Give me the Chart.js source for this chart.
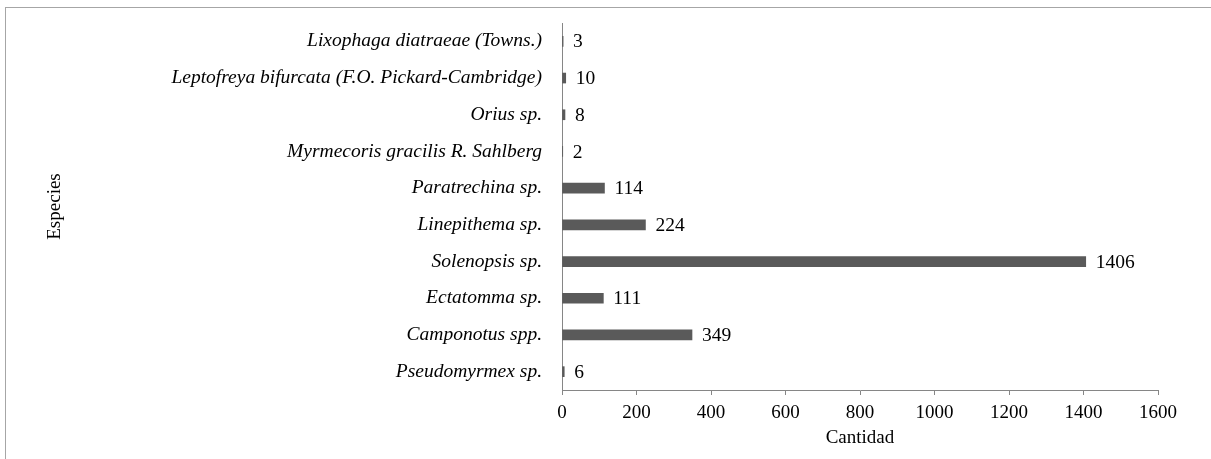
<!DOCTYPE html>
<html>
<head>
<meta charset="utf-8">
<script src="https://cdn.jsdelivr.net/npm/chart.js@4"></script>
<style>
  html, body { margin: 0; padding: 0; background: #fff; overflow: hidden; }
  #wrap { position: relative; width: 1211px; height: 459px; }
  #frame { position: absolute; left: 5px; top: 7px; width: 1400px; height: 700px; border: 1px solid #a6a6a6; box-sizing: border-box; pointer-events: none; }
</style>
</head>
<body>
<div id="wrap">
  <div id="frame"></div>
  <canvas id="speciesChart"></canvas>
</div>
<script>
// species, top to bottom as in the figure
var especies = [
    'Lixophaga diatraeae (Towns.)',
    'Leptofreya bifurcata (F.O. Pickard-Cambridge)',
    'Orius sp.',
    'Myrmecoris gracilis R. Sahlberg',
    'Paratrechina sp.',
    'Linepithema sp.',
    'Solenopsis sp.',
    'Ectatomma sp.',
    'Camponotus spp.',
    'Pseudomyrmex sp.'
];
var cantidad = [3, 10, 8, 2, 114, 224, 1406, 111, 349, 6];
var xTicks = [0, 200, 400, 600, 800, 1000, 1200, 1400, 1600];

var serif = "'Liberation Serif', 'Times New Roman', serif";
var axisGray = '#868686';

// draws the value right of each bar
var valueLabels = {
    id: 'valueLabels',
    afterDatasetsDraw: function (chart) {
        var ctx = chart.ctx;
        var meta = chart.getDatasetMeta(0);
        ctx.save();
        ctx.font = '19.5px ' + serif;
        ctx.fillStyle = '#000';
        ctx.textAlign = 'left';
        ctx.textBaseline = 'middle';
        meta.data.forEach(function (bar, i) {
            ctx.fillText(String(cantidad[i]), bar.x + 10, bar.y + 1);
        });
        ctx.restore();
    }
};

var ctx = document.getElementById('speciesChart').getContext('2d');
var chart = new Chart(ctx, {
    type: 'bar',
    data: {
        labels: especies,
        datasets: [{
            data: cantidad,
            backgroundColor: '#5a5a5a',
            barThickness: 10
        }]
    },
    plugins: [valueLabels],
    options: {
        indexAxis: 'y',
        responsive: true,
        maintainAspectRatio: false,
        animation: false,
        layout: { padding: { left: 44, top: 23, right: 53, bottom: 0 } },
        plugins: {
            legend: { display: false },
            tooltip: { enabled: false }
        },
        scales: {
            x: {
                min: 0,
                max: 1600,
                afterBuildTicks: function (scale) {
                    scale.ticks = xTicks.map(function (v) { return { value: v }; });
                },
                afterFit: function (scale) { scale.height = 69; },
                grid: { drawOnChartArea: false, drawTicks: true, tickLength: 5, color: axisGray },
                border: { color: axisGray },
                ticks: {
                    color: '#000', font: { family: serif, size: 19 }, padding: 7, maxRotation: 0,
                    callback: function (value) { return String(value); }
                },
                title: { display: true, text: 'Cantidad', color: '#000', font: { family: serif, size: 19 }, padding: { top: 0, bottom: 10 } }
            },
            y: {
                afterFit: function (scale) {
                    scale.width = 518;
                    scale.paddingTop = 0;
                    scale.paddingBottom = 0;
                },
                grid: { display: false },
                border: { color: axisGray },
                ticks: { color: '#000', font: { family: serif, size: 19.5, style: 'italic' }, padding: 12, autoSkip: false },
                title: { display: true, text: 'Especies', color: '#000', font: { family: serif, size: 19 }, padding: { top: 0, bottom: 0 } }
            }
        }
    }
});
</script>
</body>
</html>
